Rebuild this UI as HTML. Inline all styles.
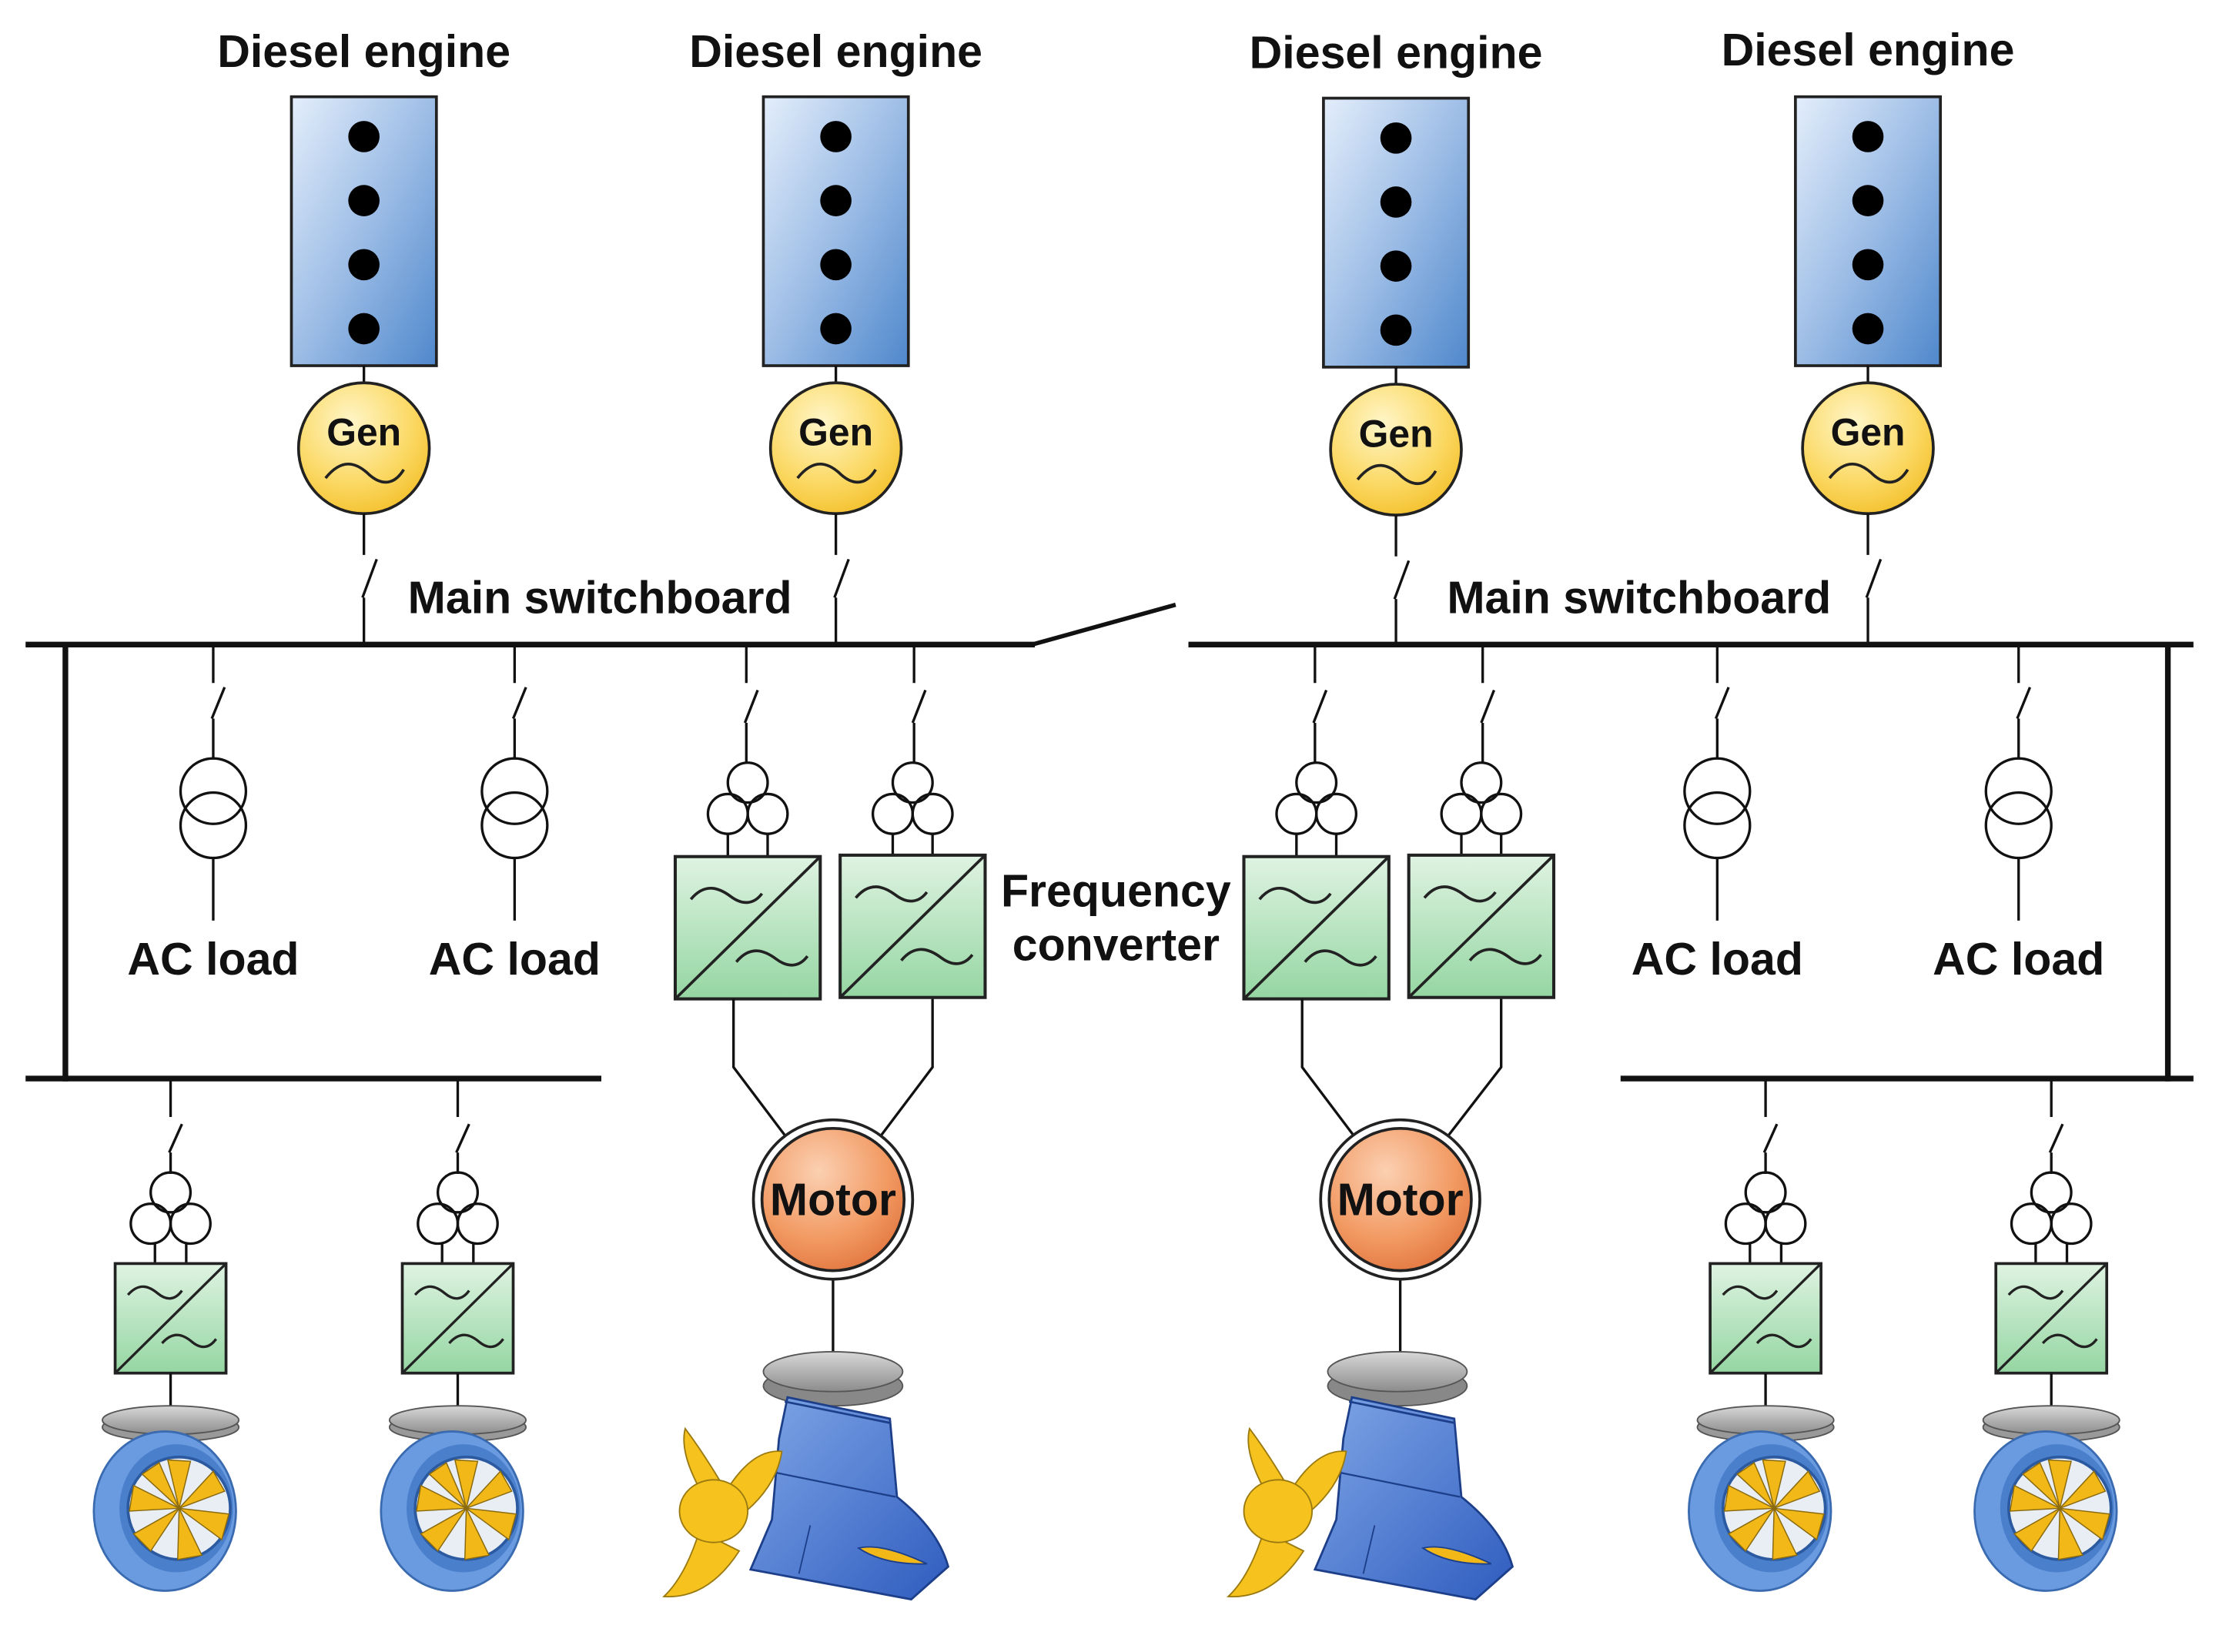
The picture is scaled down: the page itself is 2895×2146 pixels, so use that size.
<!DOCTYPE html>
<html><head><meta charset="utf-8"><style>
html,body{margin:0;padding:0;background:#fff;}
svg{display:block;}
text{font-family:"Liberation Sans",Arial,sans-serif;font-weight:bold;fill:#111;}
</style></head><body>
<svg width="2895" height="2146" viewBox="0 0 1568 1161" preserveAspectRatio="none" xmlns="http://www.w3.org/2000/svg">
<defs>
<linearGradient id="eng" x1="0" y1="0" x2="1" y2="1"><stop offset="0" stop-color="#e4eefb"/><stop offset="0.5" stop-color="#9dbde6"/><stop offset="1" stop-color="#4f88cc"/></linearGradient>
<radialGradient id="gen" cx="0.4" cy="0.3" r="0.8"><stop offset="0" stop-color="#fff6c8"/><stop offset="0.6" stop-color="#fbd862"/><stop offset="1" stop-color="#f2bb22"/></radialGradient>
<radialGradient id="mot" cx="0.4" cy="0.3" r="0.8"><stop offset="0" stop-color="#fbd0b2"/><stop offset="0.6" stop-color="#f29a63"/><stop offset="1" stop-color="#e0703a"/></radialGradient>
<linearGradient id="fc" x1="0" y1="0" x2="0" y2="1"><stop offset="0" stop-color="#dff3e2"/><stop offset="1" stop-color="#95d6a2"/></linearGradient>
<linearGradient id="blue" x1="0" y1="0" x2="1" y2="1"><stop offset="0" stop-color="#7fa6e6"/><stop offset="1" stop-color="#2f5cbf"/></linearGradient>
<linearGradient id="grey" x1="0" y1="0" x2="0" y2="1"><stop offset="0" stop-color="#d8d8d8"/><stop offset="1" stop-color="#8c8c8c"/></linearGradient>
<g id="engine">
<rect x="-51" y="0" width="102" height="189" fill="url(#eng)" stroke="#222" stroke-width="2"/>
<circle cx="0" cy="28" r="11" fill="#000"/><circle cx="0" cy="73" r="11" fill="#000"/>
<circle cx="0" cy="118" r="11" fill="#000"/><circle cx="0" cy="163" r="11" fill="#000"/>
<line x1="0" y1="189" x2="0" y2="201" stroke="#111" stroke-width="1.8"/>
<circle cx="0" cy="247" r="46" fill="url(#gen)" stroke="#222" stroke-width="2"/>
<text x="0" y="245" font-size="27" text-anchor="middle">Gen</text>
<path d="M-27,268 C-15,253 -5,258 2,264 C10,272 20,275 28,262" fill="none" stroke="#222" stroke-width="2"/>
<line x1="0" y1="293" x2="0" y2="322" stroke="#111" stroke-width="1.8"/>
<line x1="9" y1="325" x2="-1" y2="352" stroke="#111" stroke-width="1.8"/>
<line x1="0" y1="352" x2="0" y2="385" stroke="#111" stroke-width="1.8"/>
</g>
<g id="acload" stroke="#111" stroke-width="1.8" fill="none">
<line x1="0" y1="453" x2="0" y2="480"/><line x1="8" y1="483" x2="-1" y2="505"/><line x1="0" y1="505" x2="0" y2="533"/>
<circle cx="0" cy="556" r="23" fill="#fff"/><circle cx="0" cy="580" r="23"/>
<line x1="0" y1="603" x2="0" y2="647"/>
</g>
<g id="tri" stroke="#111" stroke-width="1.8" fill="none">
<circle cx="0" cy="0" r="14"/><circle cx="-14" cy="22" r="14"/><circle cx="14" cy="22" r="14"/>
</g>
<g id="fcbig">
<rect x="-51" y="0" width="102" height="100" fill="url(#fc)" stroke="#222" stroke-width="2.2"/>
<line x1="-51" y1="100" x2="51" y2="0" stroke="#222" stroke-width="2"/>
<path d="M-40,30 C-30,18 -20,22 -12,28 C-4,34 4,34 10,26" fill="none" stroke="#222" stroke-width="2"/>
<path d="M-8,74 C2,62 12,66 20,72 C28,78 36,78 42,70" fill="none" stroke="#222" stroke-width="2"/>
</g>
<g id="fcsmall">
<rect x="-39" y="0" width="78" height="77" fill="url(#fc)" stroke="#222" stroke-width="2"/>
<line x1="-39" y1="77" x2="39" y2="0" stroke="#222" stroke-width="1.8"/>
<path d="M-30,22 C-22,13 -15,16 -9,21 C-3,26 3,26 8,19" fill="none" stroke="#222" stroke-width="1.8"/>
<path d="M-6,56 C2,47 9,50 15,55 C21,60 27,60 32,53" fill="none" stroke="#222" stroke-width="1.8"/>
</g>
<g id="thr">
<line x1="0" y1="758" x2="0" y2="785" stroke="#111" stroke-width="1.8"/>
<line x1="8" y1="790" x2="-1" y2="810" stroke="#111" stroke-width="1.8"/>
<line x1="0" y1="810" x2="0" y2="825" stroke="#111" stroke-width="1.8"/>
<use href="#tri" y="838"/>
<line x1="-11" y1="873" x2="-11" y2="888" stroke="#111" stroke-width="1.8"/>
<line x1="11" y1="873" x2="11" y2="888" stroke="#111" stroke-width="1.8"/>
<use href="#fcsmall" y="888"/>
<line x1="0" y1="965" x2="0" y2="990" stroke="#111" stroke-width="1.8"/>
<ellipse cx="0" cy="1003" rx="48" ry="10" fill="#999" stroke="#555"/>
<ellipse cx="0" cy="998" rx="48" ry="10" fill="url(#grey)" stroke="#555"/>
<rect x="-12" y="1008" width="22" height="16" fill="#ccc" stroke="#777"/>
<ellipse cx="-4" cy="1062" rx="50" ry="56" fill="#6a9be0" stroke="#3a6ab0" stroke-width="1.5"/>
<ellipse cx="4" cy="1060" rx="40" ry="45" fill="#4a7fcc"/>
<circle cx="6" cy="1060" r="36" fill="#e8eef4" stroke="#2c5aa0" stroke-width="2"/>
<g fill="#f1b817" stroke="#8a6a10" stroke-width="0.8">
<path d="M6,1060 L-2,1026 L14,1027Z"/><path d="M6,1060 L30,1034 L38,1048Z"/>
<path d="M6,1060 L41,1064 L36,1082Z"/><path d="M6,1060 L22,1093 L5,1096Z"/>
<path d="M6,1060 L-14,1090 L-26,1078Z"/><path d="M6,1060 L-29,1062 L-26,1044Z"/>
<path d="M6,1060 L-20,1036 L-8,1028Z"/>
</g>
</g>
<g id="pod">
<ellipse cx="-4" cy="974" rx="49" ry="14" fill="#888" stroke="#555"/>
<ellipse cx="-4" cy="964" rx="49" ry="14" fill="url(#grey)" stroke="#555"/>
<path d="M-36,982 L36,997 L41,1052 Q70,1075 77,1101 L51,1124 L-62,1103 L-47,1068 L-42,1011 Z" fill="url(#blue)" stroke="#1d3f8a" stroke-width="1.5"/>
<path d="M-38,985 L36,1000" stroke="#1d3f8a" stroke-width="1.5"/>
<path d="M-44,1035 L40,1052" stroke="#1d3f8a" stroke-width="1.2"/>
<path d="M-20,1072 L-28,1106" stroke="#1d3f8a" stroke-width="1"/>
<path d="M14,1088 Q30,1084 62,1099 Q32,1100 14,1088Z" fill="#f1b817" stroke="#1d3f8a"/>
<g fill="#f5c21e" stroke="#9a7a10" stroke-width="1">
<path d="M-98,1046 Q-112,1020 -108,1004 Q-96,1020 -84,1040 Z"/>
<path d="M-78,1046 Q-60,1018 -40,1020 Q-44,1046 -70,1066 Z"/>
<path d="M-98,1076 Q-108,1108 -123,1122 Q-92,1124 -70,1090 Z"/>
<ellipse cx="-88" cy="1062" rx="24" ry="22"/>
</g>
</g>
</defs>

<g font-size="32">
<text x="256" y="47" text-anchor="middle">Diesel engine</text>
<text x="588" y="47" text-anchor="middle">Diesel engine</text>
<text x="982" y="48" text-anchor="middle">Diesel engine</text>
<text x="1314" y="46" text-anchor="middle">Diesel engine</text>
</g>
<use href="#engine" x="256" y="68"/>
<use href="#engine" x="588" y="68"/>
<use href="#engine" x="982" y="69"/>
<use href="#engine" x="1314" y="68"/>

<g font-size="32">
<text x="422" y="431" text-anchor="middle">Main switchboard</text>
<text x="1153" y="431" text-anchor="middle">Main switchboard</text>
</g>

<g stroke="#111" stroke-width="4" fill="none">
<line x1="18" y1="453" x2="728" y2="453"/>
<line x1="726" y1="453" x2="827" y2="425" stroke-width="3"/>
<line x1="836" y1="453" x2="1543" y2="453"/>
<line x1="46" y1="452" x2="46" y2="760"/>
<line x1="18" y1="758" x2="423" y2="758"/>
<line x1="1525" y1="452" x2="1525" y2="760"/>
<line x1="1140" y1="758" x2="1543" y2="758"/>
</g>

<use href="#acload" x="150"/>
<use href="#acload" x="362"/>
<use href="#acload" x="1208"/>
<use href="#acload" x="1420"/>
<g font-size="32">
<text x="150" y="685" text-anchor="middle">AC load</text>
<text x="362" y="685" text-anchor="middle">AC load</text>
<text x="1208" y="685" text-anchor="middle">AC load</text>
<text x="1420" y="685" text-anchor="middle">AC load</text>
<text x="785" y="637" text-anchor="middle">Frequency</text>
<text x="785" y="675" text-anchor="middle">converter</text>
</g>

<g stroke="#111" stroke-width="1.8" fill="none">
<line x1="525" y1="453" x2="525" y2="480"/><line x1="533" y1="485" x2="524" y2="508"/><line x1="525" y1="508" x2="525" y2="536"/>
<line x1="643" y1="453" x2="643" y2="480"/><line x1="651" y1="485" x2="642" y2="508"/><line x1="643" y1="508" x2="643" y2="536"/>
<line x1="925" y1="453" x2="925" y2="480"/><line x1="933" y1="485" x2="924" y2="508"/><line x1="925" y1="508" x2="925" y2="536"/>
<line x1="1043" y1="453" x2="1043" y2="480"/><line x1="1051" y1="485" x2="1042" y2="508"/><line x1="1043" y1="508" x2="1043" y2="536"/>
</g>
<use href="#tri" x="526" y="550"/><use href="#tri" x="642" y="550"/>
<use href="#tri" x="926" y="550"/><use href="#tri" x="1042" y="550"/>
<g stroke="#111" stroke-width="1.8">
<line x1="512" y1="586" x2="512" y2="602"/><line x1="540" y1="586" x2="540" y2="602"/>
<line x1="628" y1="586" x2="628" y2="602"/><line x1="656" y1="586" x2="656" y2="602"/>
<line x1="912" y1="586" x2="912" y2="602"/><line x1="940" y1="586" x2="940" y2="602"/>
<line x1="1028" y1="586" x2="1028" y2="602"/><line x1="1056" y1="586" x2="1056" y2="602"/>
</g>
<use href="#fcbig" x="526" y="602"/><use href="#fcbig" x="642" y="601"/>
<use href="#fcbig" x="926" y="602"/><use href="#fcbig" x="1042" y="601"/>

<g stroke="#111" stroke-width="1.8" fill="none">
<polyline points="516,702 516,750 556,803"/>
<polyline points="656,702 656,750 616,803"/>
<polyline points="916,702 916,750 956,803"/>
<polyline points="1056,702 1056,750 1015,803"/>
<line x1="586" y1="898" x2="586" y2="950"/>
<line x1="985" y1="898" x2="985" y2="950"/>
</g>
<circle cx="586" cy="843" r="56" fill="#fff" stroke="#222" stroke-width="2"/>
<circle cx="586" cy="843" r="50" fill="url(#mot)" stroke="#222" stroke-width="2"/>
<circle cx="985" cy="843" r="56" fill="#fff" stroke="#222" stroke-width="2"/>
<circle cx="985" cy="843" r="50" fill="url(#mot)" stroke="#222" stroke-width="2"/>
<text x="586" y="854" font-size="32" text-anchor="middle">Motor</text>
<text x="985" y="854" font-size="32" text-anchor="middle">Motor</text>

<use href="#pod" x="590"/>
<use href="#pod" x="987"/>

<use href="#thr" x="120"/>
<use href="#thr" x="322"/>
<use href="#thr" x="1242"/>
<use href="#thr" x="1443"/>
</svg>
</body></html>
